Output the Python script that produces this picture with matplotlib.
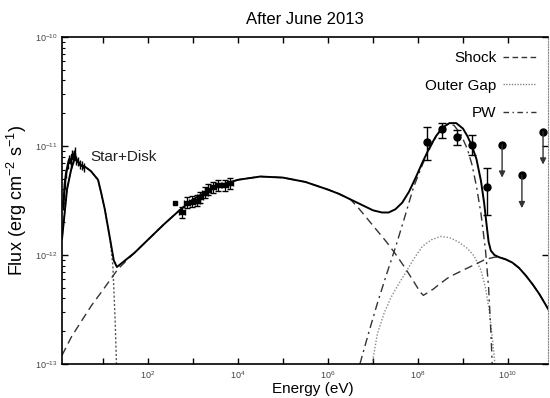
import numpy as np
import matplotlib
matplotlib.use("Agg")
import matplotlib.pyplot as plt
from matplotlib.ticker import FixedLocator, NullFormatter, FuncFormatter
from matplotlib.lines import Line2D

plt.rcParams['font.family'] = ['Liberation Sans', 'DejaVu Sans']
plt.rcParams['mathtext.fontset'] = 'custom'
plt.rcParams['mathtext.rm'] = 'Liberation Sans'
plt.rcParams['mathtext.it'] = 'Liberation Sans'

# ---- data (log10 E [eV], log10 Flux [erg cm^-2 s^-1]) ----
total_logE = [0.09, 0.2, 0.29, 0.38, 0.49, 0.6, 0.73, 0.89, 0.96, 1.04, 1.16, 1.24, 1.31, 1.4,
              1.7, 2.0, 2.35, 2.7, 3.0, 3.3, 3.6, 4.0, 4.5, 5.0, 5.5, 6.0, 6.25, 6.5, 6.75, 7.0,
              7.2, 7.35, 7.5, 7.65, 7.8, 7.95, 8.1, 8.25, 8.4, 8.55, 8.7, 8.85, 9.0, 9.1, 9.2,
              9.3, 9.4, 9.47, 9.53, 9.57, 9.62, 9.7, 9.8, 9.95, 10.1, 10.25, 10.4, 10.55, 10.7, 10.9]
total_logF = [-11.85, -11.40, -11.22, -11.10, -11.17, -11.19, -11.23, -11.31, -11.43, -11.58, -11.86, -12.05, -12.11, -12.08,
              -11.98, -11.86, -11.72, -11.59, -11.49, -11.42, -11.36, -11.31, -11.28, -11.29, -11.33, -11.40, -11.44, -11.49, -11.54, -11.59,
              -11.61, -11.61, -11.58, -11.52, -11.42, -11.29, -11.15, -11.02, -10.91, -10.83, -10.79, -10.79, -10.84, -10.91, -11.00,
              -11.12, -11.32, -11.52, -11.74, -11.88, -11.96, -12.00, -12.02, -12.04, -12.07, -12.12, -12.19, -12.27, -12.36, -12.50]

shock_logE = [0.09, 0.3, 0.5, 0.75, 1.0, 1.33, 1.7, 2.0, 2.35, 2.7, 3.0, 3.3, 3.6, 4.0, 4.5, 5.0, 5.5, 6.0,
              6.25, 6.5, 6.7, 6.9, 7.1, 7.3, 7.5, 7.7, 7.9, 8.05, 8.12, 8.2, 8.35, 8.5, 8.7, 8.9, 9.1, 9.3,
              9.5, 9.7, 9.8, 9.95, 10.1, 10.25, 10.4, 10.55, 10.7, 10.9]
shock_logF = [-12.92, -12.75, -12.62, -12.46, -12.32, -12.13, -11.98, -11.86, -11.72, -11.59, -11.49, -11.42, -11.36, -11.31, -11.28, -11.29, -11.33, -11.40,
              -11.44, -11.49, -11.58, -11.68, -11.78, -11.88, -11.99, -12.11, -12.24, -12.34, -12.37, -12.35, -12.31, -12.26, -12.20, -12.16, -12.12, -12.08,
              -12.04, -12.02, -12.02, -12.04, -12.07, -12.12, -12.19, -12.27, -12.36, -12.50]

stardisk_logE = [0.09, 0.2, 0.29, 0.38, 0.49, 0.6, 0.73, 0.89, 0.96, 1.04, 1.16, 1.22, 1.27, 1.3]
stardisk_logF = [-11.85, -11.40, -11.22, -11.10, -11.17, -11.19, -11.23, -11.31, -11.43, -11.58, -11.86, -12.10, -12.60, -13.0]

og_logE = [6.98, 7.1, 7.25, 7.4, 7.55, 7.7, 7.9, 8.1, 8.3, 8.5, 8.7, 8.9, 9.1, 9.25, 9.4, 9.5, 9.58, 9.65, 9.71]
og_logF = [-13.0, -12.72, -12.53, -12.39, -12.28, -12.18, -12.04, -11.92, -11.86, -11.83, -11.84, -11.88, -11.94, -12.01, -12.14, -12.30, -12.50, -12.75, -13.0]

pw_logE = [6.71, 6.9, 7.1, 7.3, 7.5, 7.7, 7.9, 8.1, 8.3, 8.5, 8.65, 8.8, 8.95, 9.1, 9.2, 9.3, 9.4, 9.5, 9.57, 9.62, 9.65]
pw_logF = [-13.0, -12.72, -12.44, -12.18, -11.93, -11.66, -11.38, -11.17, -10.99, -10.85, -10.80, -10.81, -10.89, -11.03, -11.17, -11.37, -11.62, -11.95, -12.30, -12.70, -13.0]

# optical / IR spectrum (star+disk region)
opt_logE = [0.12, 0.15, 0.18, 0.22, 0.25, 0.28, 0.31, 0.34, 0.37, 0.40, 0.44, 0.48, 0.53, 0.58]
opt_logF = [-11.55, -11.35, -11.25, -11.17, -11.12, -11.16, -11.08, -11.12, -11.05, -11.13, -11.14, -11.17, -11.18, -11.20]

# X-ray data
xr_logE = [2.76, 2.87, 2.98, 3.09, 3.16, 3.27, 3.33, 3.44, 3.56, 3.71, 3.82]
xr_logF = [-11.61, -11.52, -11.51, -11.50, -11.47, -11.43, -11.40, -11.38, -11.36, -11.36, -11.34]
xr_dlogE = 0.07
xr_dlogF = 0.05
xr_extra_logE = [2.6]
xr_extra_logF = [-11.52]

# gamma-ray data
g_logE = [8.2, 8.53, 8.87, 9.2, 9.53]
g_logF = [-10.96, -10.84, -10.92, -10.99, -11.38]
g_lo = [-11.13, -10.93, -10.99, -11.08, -11.63]
g_hi = [-10.83, -10.79, -10.85, -10.90, -11.20]

# upper limits
ul_logE = [9.87, 10.31, 10.78]
ul_logF = [-10.99, -11.27, -10.87]
ul_len = 0.3

xlim_log = (0.089, 10.89)
ylim = (1e-13, 1e-10)

# ---- figure ----
fig = plt.figure(figsize=(5.5, 3.98), dpi=100)
ax = fig.add_axes([62/550, 1-364/398, (548-62)/550, (364-37)/398])
ax.set_xscale('log')
ax.set_yscale('log')

p = lambda a: 10**np.asarray(a, dtype=float)

ax.plot(p(stardisk_logE), p(stardisk_logF), color='#555555', lw=1.0, ls=(0, (1.5, 1.5)))
ax.plot(p(og_logE), p(og_logF), color='#888888', lw=1.0, ls=(0, (1, 1.3)))
ax.plot(p(pw_logE), p(pw_logF), color='#333333', lw=1.0, ls=(0, (6, 3, 1.5, 3)))
ax.plot(p(shock_logE), p(shock_logF), color='#333333', lw=1.0, ls=(0, (6, 3.5)))
ax.plot(p(total_logE), p(total_logF), color='black', lw=1.4)

# optical spectrum
ax.plot(p(opt_logE), p(opt_logF), color='black', lw=1.6)
ax.errorbar(p(opt_logE), p(opt_logF),
            yerr=[p(opt_logF) - p(np.array(opt_logF) - 0.04), p(np.array(opt_logF) + 0.04) - p(opt_logF)],
            fmt='none', ecolor='black', elinewidth=1.0)

# X-ray
xe = p(xr_logE); xf = p(xr_logF)
ax.errorbar(xe, xf,
            xerr=[xe - p(np.array(xr_logE) - xr_dlogE), p(np.array(xr_logE) + xr_dlogE) - xe],
            yerr=[xf - p(np.array(xr_logF) - xr_dlogF), p(np.array(xr_logF) + xr_dlogF) - xf],
            fmt='s', ms=2.5, color='black', ecolor='black', elinewidth=0.9, capsize=2)
ax.plot(p(xr_extra_logE), p(xr_extra_logF), 's', ms=2.5, color='black')

# gamma
ge = p(g_logE); gf = p(g_logF)
ax.errorbar(ge, gf, yerr=[gf - p(g_lo), p(g_hi) - gf], fmt='o', ms=5, color='black',
            ecolor='black', elinewidth=1.0, capsize=3)

# upper limits
for le, lf in zip(ul_logE, ul_logF):
    ax.plot([p(le)], [p(lf)], 'o', ms=5, color='black')
    ax.annotate('', xy=(p(le), p(lf - ul_len)), xytext=(p(le), p(lf)),
                arrowprops=dict(arrowstyle='-|>', color='#333333', lw=1.0,
                                mutation_scale=9, shrinkA=0, shrinkB=0))

ax.set_xlim(p(xlim_log[0]), p(xlim_log[1]))
ax.set_ylim(*ylim)

# ticks
xmaj = [10.0**k for k in range(1, 11)]
ax.xaxis.set_major_locator(FixedLocator(xmaj))
ax.xaxis.set_minor_locator(FixedLocator([]))
def xfmt(v, pos):
    k = int(round(np.log10(v)))
    return r'10$^{%d}$' % k if k % 2 == 0 else ''
ax.xaxis.set_major_formatter(FuncFormatter(xfmt))
ax.yaxis.set_major_locator(FixedLocator([1e-13, 1e-12, 1e-11, 1e-10]))
ax.yaxis.set_major_formatter(FuncFormatter(lambda v, pos: r'10$^{%d}$' % int(round(np.log10(v)))))
ymin = [m * 10.0**k for k in (-13, -12, -11) for m in range(2, 10)]
ax.yaxis.set_minor_locator(FixedLocator(ymin))
ax.yaxis.set_minor_formatter(NullFormatter())

ax.tick_params(axis='both', which='major', direction='in', length=4, width=1.0,
               labelsize=6.5, labelcolor='#444444', top=True, right=True)
ax.tick_params(axis='y', which='minor', direction='in', length=2.5, width=0.8, left=True, right=False)
ax.tick_params(axis='x', which='major', pad=4)

for s in ('left', 'bottom', 'top'):
    ax.spines[s].set_linewidth(1.2)
ax.spines['right'].set_linestyle((0, (1, 1.5)))
ax.spines['right'].set_color('#888888')
ax.spines['right'].set_linewidth(0.8)

ax.set_title('After June 2013', fontsize=12, pad=9)
ax.set_xlabel('Energy (eV)', fontsize=11, labelpad=-1)
ax.xaxis.set_label_coords(0.5 + 8/486, -0.055)
ax.set_ylabel(r'Flux (erg cm$^{-2}$ s$^{-1}$)', fontsize=13, labelpad=4)

ax.text(p(0.71), p(-11.1), 'Star+Disk', fontsize=11, ha='left', va='center', color='#222222')

handles = [Line2D([], [], color='#333333', lw=1.0, ls=(0, (4, 2.5))),
           Line2D([], [], color='#888888', lw=1.0, ls=(0, (1, 1))),
           Line2D([], [], color='#333333', lw=1.0, ls=(0, (4, 2.5, 1, 2.5)))]
ax.legend(handles, ['Shock', 'Outer Gap', 'PW'], loc='upper right', frameon=False,
          markerfirst=False, fontsize=11, handlelength=2.15, labelspacing=0.9,
          handletextpad=0.45, borderaxespad=0.3, bbox_to_anchor=(0.997, 0.99))

fig.savefig('out.png', dpi=100)
